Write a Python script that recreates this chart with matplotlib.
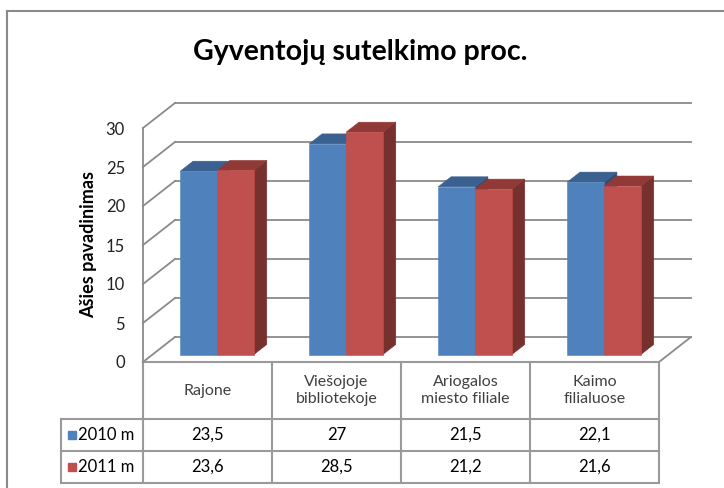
import matplotlib
matplotlib.use("Agg")
import matplotlib.pyplot as plt
from matplotlib.lines import Line2D

plt.rcParams['font.family'] = ['Lato', 'DejaVu Sans']

title = "Gyventojų sutelkimo proc."
y_label = "Ašies pavadinimas"
categories = ["Rajone", "Viešojoje\nbibliotekoje", "Ariogalos\nmiesto filiale", "Kaimo\nfilialuose"]
series_names = ["2010 m", "2011 m"]
values_2010 = [23.5, 27, 21.5, 22.1]
values_2011 = [23.6, 28.5, 21.2, 21.6]
value_labels_2010 = ["23,5", "27", "21,5", "22,1"]
value_labels_2011 = ["23,6", "28,5", "21,2", "21,6"]
y_ticks = [0, 5, 10, 15, 20, 25, 30]

W, H = 724, 488
fig = plt.figure(figsize=(W / 100, H / 100), dpi=100)

# front plane of the 3D box in pixels
left_px, right_px, base_px, top_px = 143, 659, 362, 128
ax = fig.add_axes([left_px / W, 1 - base_px / H, (right_px - left_px) / W, (base_px - top_px) / H])
ax.set_xlim(-0.5, 3.5)
ax.set_ylim(0, 30)
n = len(categories)
px_x = (right_px - left_px) / n
px_y = (base_px - top_px) / 30.0

# oblique depth: full depth shifts 32 px right, 25 px up
DX = 32 / px_x
DY = 25 / px_y

def proj(x, y, d):
    return x + d * DX, y + d * DY

grid_col = '#8a8a8a'
# back wall grid lines and left wall
for v in y_ticks:
    x0, y0 = proj(-0.5, v, 1)
    x1, y1 = proj(3.5, v, 1)
    ax.plot([x0, x1], [y0, y1], color=grid_col, lw=1.3, clip_on=False, zorder=1)
    ax.plot([-0.5, x0], [v, y0], color=grid_col, lw=1.3, clip_on=False, zorder=1)
# floor right edge
xr, yr = proj(3.5, 0, 1)
ax.plot([3.5, xr], [0, yr], color=grid_col, lw=1.3, clip_on=False, zorder=1)

colors = [('#4F81BD', '#3A6190', '#2F4F7A'), ('#C0504D', '#913936', '#76302E')]
bw = 1 / 3.5
d0, d1 = 0.3, 0.7

def draw_bar(x0, x1, h, cols):
    front, top, side = cols
    poly_side = [proj(x1, 0, d0), proj(x1, 0, d1), proj(x1, h, d1), proj(x1, h, d0)]
    poly_top = [proj(x0, h, d0), proj(x1, h, d0), proj(x1, h, d1), proj(x0, h, d1)]
    poly_front = [proj(x0, 0, d0), proj(x1, 0, d0), proj(x1, h, d0), proj(x0, h, d0)]
    for poly, c in ((poly_side, side), (poly_top, top), (poly_front, front)):
        xs, ys = zip(*poly)
        ax.fill(xs, ys, color=c, lw=0.4, ec=c, clip_on=False, zorder=3)

for i in range(n):
    draw_bar(i - bw, i, values_2010[i], colors[0])
    draw_bar(i, i + bw, values_2011[i], colors[1])

# axis styling
for s in ['top', 'right', 'bottom']:
    ax.spines[s].set_visible(False)
ax.spines['left'].set_color(grid_col)
ax.spines['left'].set_linewidth(1.3)
ax.set_xticks([])
ax.set_yticks(y_ticks)
ax.tick_params(axis='y', length=0, pad=13, labelsize=12, labelcolor='#222222')
ax.patch.set_visible(False)
ax.set_ylabel(y_label, fontsize=13, fontweight='bold')
ax.yaxis.set_label_coords(-0.089, 0.5)

# data table under the chart
tab_col = '#9a9a9a'
r1 = -(419 - base_px) / px_y
r2 = -(451 - base_px) / px_y
r3 = -(483 - base_px) / px_y
leg_x = -0.5 + (61 - left_px) / px_x
ax.plot([-0.5, 3.5], [0, 0], color=tab_col, lw=1.5, clip_on=False, zorder=2)
for yy in (r1, r2, r3):
    ax.plot([leg_x, 3.5], [yy, yy], color=tab_col, lw=1.5, clip_on=False, zorder=2)
for k in range(n + 1):
    ax.plot([k - 0.5, k - 0.5], [0, r3], color=tab_col, lw=1.5, clip_on=False, zorder=2)
ax.plot([leg_x, leg_x], [r1, r3], color=tab_col, lw=1.5, clip_on=False, zorder=2)

for i in range(n):
    ax.text(i, r1 / 2, categories[i], ha='center', va='center', fontsize=11.5,
            color='#404040', linespacing=1.25)
    ax.text(i, (r1 + r2) / 2, value_labels_2010[i], ha='center', va='center', fontsize=12, color='black')
    ax.text(i, (r2 + r3) / 2, value_labels_2011[i], ha='center', va='center', fontsize=12, color='black')

mark_x = -0.5 + (72 - left_px) / px_x
text_x = -0.5 + (78 - left_px) / px_x
for yy, name, cols in (((r1 + r2) / 2, series_names[0], colors[0]), ((r2 + r3) / 2, series_names[1], colors[1])):
    ax.plot([mark_x], [yy], marker='s', ms=6, color=cols[0], clip_on=False, ls='none')
    ax.text(text_x, yy, name, ha='left', va='center', fontsize=12, color='black')

# title and outer frame
fig.text(360 / W, 1 - 52 / H, title, ha='center', va='center', fontsize=20.5, fontweight='bold')
fig.add_artist(Line2D([7 / W, 1], [1 - 11 / H, 1 - 11 / H], color='#8a8a8a', lw=1.5))
fig.add_artist(Line2D([7 / W, 7 / W], [0, 1 - 11 / H], color='#8a8a8a', lw=1.5))

fig.savefig("out.png", dpi=100)
